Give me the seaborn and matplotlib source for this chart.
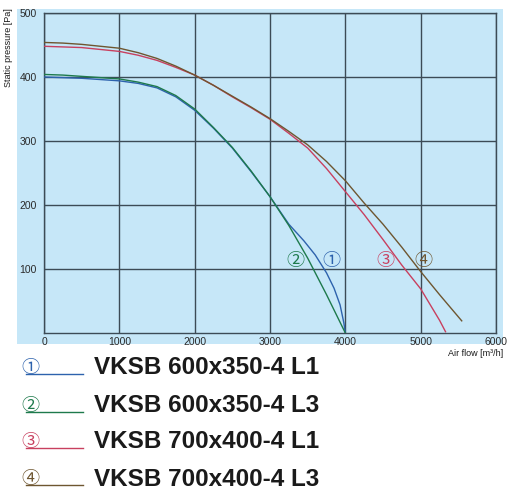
import matplotlib
matplotlib.use("Agg")
import matplotlib.pyplot as plt
import seaborn as sns
import pandas as pd
from matplotlib.patches import Rectangle

# curve readings (air flow m3/h, static pressure Pa)
flow_600_l1 = [0, 250, 500, 750, 1000, 1250, 1500, 1750, 2000, 2250, 2500, 2750, 3000, 3250, 3450, 3600, 3750, 3850, 3930, 3980, 4000]
pres_600_l1 = [400, 399, 398, 396, 394, 390, 383, 369, 348, 320, 289, 252, 213, 170, 144, 122, 94, 70, 44, 16, 0]

flow_600_l3 = [0, 250, 500, 750, 1000, 1250, 1500, 1750, 2000, 2250, 2500, 2750, 3000, 3250, 3500, 3750, 4000]
pres_600_l3 = [404, 403, 401, 399, 397, 392, 385, 371, 350, 321, 290, 253, 213, 168, 117, 60, 0]

flow_700_l1 = [0, 250, 500, 750, 1000, 1250, 1500, 1750, 2000, 2250, 2500, 2750, 3000, 3250, 3500, 3750, 4000, 4250, 4500, 4750, 5000, 5250, 5330]
pres_700_l1 = [448, 447, 446, 443, 440, 434, 426, 415, 403, 387, 369, 352, 334, 312, 289, 257, 221, 185, 146, 106, 69, 20, 2]

flow_700_l3 = [0, 250, 500, 750, 1000, 1250, 1500, 1750, 2000, 2250, 2500, 2750, 3000, 3250, 3500, 3750, 4000, 4250, 4500, 4750, 5000, 5250, 5545]
pres_700_l3 = [454, 453, 451, 448, 445, 438, 429, 417, 403, 387, 370, 353, 335, 315, 294, 268, 238, 203, 170, 134, 96, 60, 19]

models = ["VKSB 600x350-4 L1", "VKSB 600x350-4 L3", "VKSB 700x400-4 L1", "VKSB 700x400-4 L3"]
marks = ["①", "②", "③", "④"]
colors = ["#2d62ad", "#1e7a4c", "#c8405f", "#6e5630"]
label_flow = [3810, 3340, 4530, 5030]
label_pres = [112, 112, 112, 112]

frames = []
for name, xs, ys in zip(models,
                        [flow_600_l1, flow_600_l3, flow_700_l1, flow_700_l3],
                        [pres_600_l1, pres_600_l3, pres_700_l1, pres_700_l3]):
    frames.append(pd.DataFrame({"flow": xs, "pressure": ys, "model": name}))
df = pd.concat(frames, ignore_index=True)

plt.rcParams['font.family'] = ['Liberation Sans', 'DejaVu Sans', 'Noto Sans CJK JP']

W, H = 513, 497
fig = plt.figure(figsize=(W / 100, H / 100), dpi=100)

# light blue panel behind the chart
fig.patches.append(Rectangle((17 / W, 1 - 344 / H), 486 / W, 335 / H,
                             transform=fig.transFigure, facecolor="#c6e7f8",
                             edgecolor="none", zorder=-5))

ax = fig.add_axes([44 / W, 1 - 333 / H, 452 / W, 320 / H])
ax.set_facecolor("none")
ax.set_zorder(2)

sns.lineplot(data=df, x="flow", y="pressure", hue="model", palette=colors,
             hue_order=models, sort=False, estimator=None, linewidth=1.0,
             legend=False, ax=ax, zorder=3)

ax.set_xlim(0, 6000)
ax.set_ylim(0, 500)
ax.set_xticks(range(0, 6001, 1000))
ax.set_yticks(range(100, 501, 100))
ax.grid(True, color="#3c4b56", linewidth=1.0)
ax.set_axisbelow(True)
for s in ax.spines.values():
    s.set_color("#3c4b56")
    s.set_linewidth(1.0)
ax.tick_params(length=0, labelsize=7.5, colors="#2a2a2a")
ax.tick_params(axis="x", pad=3)
ax.tick_params(axis="y", pad=5)
ax.set_xlabel("")
ax.set_ylabel("")

fig.text(9 / W, 1 - 8 / H, "Static pressure [Pa]", rotation=90, ha="center",
         va="top", fontsize=6.5, color="#1a1a1a")
fig.text(503 / W, 1 - 353 / H, "Air flow [m³/h]", ha="right", va="center",
         fontsize=6.5, color="#1a1a1a")

for m, c, fx, fy in zip(marks, colors, label_flow, label_pres):
    ax.text(fx, fy, m, color=c, fontsize=13, ha="center", va="center",
            family=['Noto Sans CJK JP', 'DejaVu Sans'], zorder=4)

# legend rows under the chart
row_y = [368, 406, 442, 479]
for m, c, name, yy in zip(marks, colors, models, row_y):
    fig.text(30 / W, 1 - yy / H, m, color=c, fontsize=13, ha="center",
             va="center", family=['Noto Sans CJK JP', 'DejaVu Sans'])
    fig.add_artist(plt.Line2D([26 / W, 83 / W], [1 - (yy + 6) / H, 1 - (yy + 6) / H],
                              color=c, linewidth=1.0, transform=fig.transFigure))
    fig.text(94 / W, 1 - yy / H, name, color="#1a1a1a", fontsize=17.5,
             fontweight="bold", ha="left", va="center")

fig.savefig("out.png", dpi=100)
